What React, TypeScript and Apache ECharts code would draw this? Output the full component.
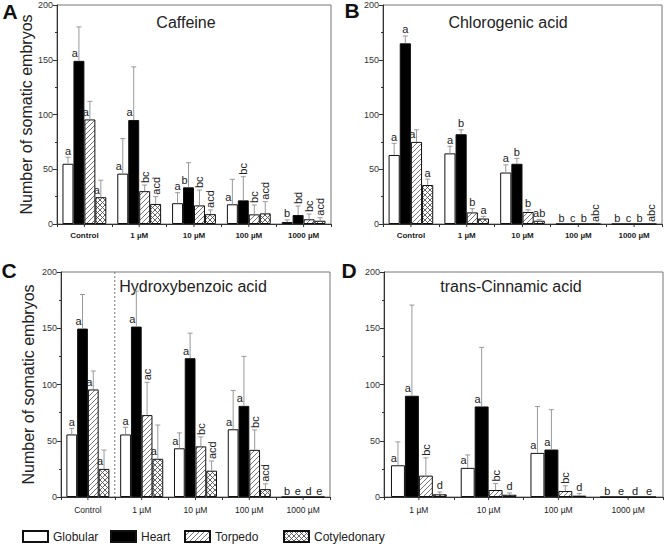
import React, { useEffect, useRef } from 'react';
import * as echarts from 'echarts';

const FONT = '"Liberation Sans", Arial, Helvetica, sans-serif';

const stages = ['Globular', 'Heart', 'Torpedo', 'Cotyledonary'];
const catsFive = ['Control', '1 µM', '10 µM', '100 µM', '1000 µM'];
const catsFour = ['1 µM', '10 µM', '100 µM', '1000 µM'];

// rows = concentration, columns = Globular, Heart, Torpedo, Cotyledonary
const caffeineMean = [[55, 149, 95.5, 24.5], [46, 95, 30, 18.3], [19, 33.5, 17, 9], [18, 21.6, 8.8, 9.7], [1.8, 8.2, 4.3, 3]];
const caffeineErr = [[61, 180, 112, 40], [78, 143.5, 35.6, 25], [28.6, 56, 31, 12.8], [40.8, 43.2, 17.4, 20.4], [3.7, 16.4, 9.1, 5.8]];
const caffeineLetters = [['a', 'a', 'a', 'a'], ['a', 'a', 'bc', 'acd'], ['a', 'b', 'bc', 'acd'], ['a', 'bc', 'bc', 'acd'], ['b', 'bd', 'bc', 'acd']];

const chlorogenicMean = [[63, 165, 75, 35.6], [64.5, 82, 10.6, 5], [47, 55, 11, 3], [0, 0, 0, 0], [0, 0, 0, 0]];
const chlorogenicErr = [[73.7, 171.7, 86, 41], [71, 86, 14, 7], [54, 60, 13, 4], [0, 0, 0, 0], [0, 0, 0, 0]];
const chlorogenicLetters = [['a', 'a', 'a', 'a'], ['a', 'b', 'b', 'a'], ['a', 'b', 'b', 'ab'], ['b', 'c', 'b', 'abc'], ['b', 'c', 'b', 'abc']];

const hydroxyMean = [[55.6, 149.7, 95.6, 25], [55.6, 151.5, 72.8, 34], [43.3, 123.4, 45, 23.4], [60.2, 81, 41.9, 7], [0, 0, 0, 0]];
const hydroxyErr = [[61, 180, 112, 41.7], [62, 183, 102, 64], [57, 145.6, 53.4, 32], [94.7, 125, 59.6, 11.7], [0, 0, 0, 0]];
const hydroxyLetters = [['a', 'a', 'a', 'a'], ['a', 'a', 'ac', 'a'], ['a', 'a', 'bc', 'acd'], ['a', 'a', 'bc', 'acd'], ['b', 'e', 'd', 'e']];

const cinnamicMean = [[28.2, 90, 19, 2.4], [25.9, 80.5, 6.2, 2], [39.2, 42.2, 5.3, 1.2], [0, 0, 0, 0]];
const cinnamicErr = [[49, 170.6, 34.8, 4.5], [37.4, 133, 11.9, 3.6], [80.5, 77.6, 10, 3], [0, 0, 0, 0]];
const cinnamicLetters = [['a', 'a', 'bc', 'd'], ['a', 'a', 'bc', 'd'], ['a', 'a', 'bc', 'd'], ['b', 'e', 'd', 'e']];

const panelTitles = ['Caffeine', 'Chlorogenic acid', 'Hydroxybenzoic acid', 'trans-Cinnamic acid'];
const panelLetters = ['A', 'B', 'C', 'D'];

function makeHatch(cross: boolean, color: string) {
  const s = 5;
  const c = document.createElement('canvas');
  c.width = s;
  c.height = s;
  const ctx = c.getContext('2d')!;
  ctx.fillStyle = '#fff';
  ctx.fillRect(0, 0, s, s);
  ctx.strokeStyle = color;
  ctx.lineWidth = 0.9;
  ctx.beginPath();
  ctx.moveTo(0, s); ctx.lineTo(s, 0);
  ctx.moveTo(-1, 1); ctx.lineTo(1, -1);
  ctx.moveTo(s - 1, s + 1); ctx.lineTo(s + 1, s - 1);
  if (cross) {
    ctx.moveTo(0, 0); ctx.lineTo(s, s);
    ctx.moveTo(-1, s - 1); ctx.lineTo(1, s + 1);
    ctx.moveTo(s - 1, -1); ctx.lineTo(s + 1, 1);
  }
  ctx.stroke();
  return { image: c, repeat: 'repeat', imageWidth: s, imageHeight: s } as any;
}

const isVertical = (l: string) => l.length > 1 && l !== 'ab';

export default function App() {
  const ref = useRef<HTMLDivElement>(null);
  useEffect(() => {
    if (!ref.current) return;
    const chart = echarts.init(ref.current, undefined, { renderer: 'svg' });

    const fills: any[] = ['#ffffff', '#000000', makeHatch(false, '#666'), makeHatch(true, '#555')];

    const panels = [
      { cats: catsFive, mean: caffeineMean, err: caffeineErr, letters: caffeineLetters, grid: { left: 57, top: 5, width: 274, height: 219 }, bold: true, name: true, nameGap: 23 },
      { cats: catsFive, mean: chlorogenicMean, err: chlorogenicErr, letters: chlorogenicLetters, grid: { left: 383, top: 5, width: 279, height: 219 }, bold: true, name: false, nameGap: 0 },
      { cats: catsFive, mean: hydroxyMean, err: hydroxyErr, letters: hydroxyLetters, grid: { left: 61, top: 272, width: 269, height: 225 }, bold: false, name: true, nameGap: 25 },
      { cats: catsFour, mean: cinnamicMean, err: cinnamicErr, letters: cinnamicLetters, grid: { left: 384, top: 272, width: 279, height: 225 }, bold: false, name: false, nameGap: 0 },
    ];

    const grid = panels.map((p) => ({ ...p.grid, show: true, borderColor: '#777', borderWidth: 1, backgroundColor: 'transparent' }));

    const xAxis: any[] = panels.map((p, i) => ({
      type: 'category',
      gridIndex: i,
      data: p.cats,
      axisLine: { onZero: false, lineStyle: { color: '#333', width: 1 } },
      axisTick: { show: true, length: 3, lineStyle: { color: '#333' } },
      axisLabel: {
        interval: 0,
        fontSize: p.bold ? 8 : 8.5,
        fontWeight: p.bold ? 'bold' : 'normal',
        fontFamily: FONT,
        color: '#222',
        margin: p.bold ? 7 : 8,
      },
    }));
    // hidden continuous x axes aligned with the category bands (used to place rotated letters)
    panels.forEach((p, i) => {
      xAxis.push({ type: 'value', gridIndex: i, min: -0.5, max: p.cats.length - 0.5, show: false, splitLine: { show: false } });
    });

    const yAxis = panels.map((p, i) => ({
      type: 'value',
      gridIndex: i,
      min: 0,
      max: 200,
      interval: 50,
      name: p.name ? 'Number of somatic embryos' : '',
      nameLocation: 'middle',
      nameGap: p.nameGap,
      nameTextStyle: { fontSize: 16, fontFamily: FONT, color: '#222' },
      axisLine: { show: true, onZero: false, lineStyle: { color: '#333', width: 1 } },
      axisTick: { show: true, length: 4, lineStyle: { color: '#333' } },
      minorTick: { show: true, splitNumber: 2, length: 2, lineStyle: { color: '#333' } },
      splitLine: { show: false },
      axisLabel: { fontSize: 9, fontFamily: FONT, color: '#333', margin: 4 },
    }));

    const series: any[] = [];
    const flats: { cat: number; stage: number; m: number; e: number; letter: string }[][] = [];
    panels.forEach((p, pi) => {
      stages.forEach((s, si) => {
        series.push({
          type: 'bar',
          name: s,
          xAxisIndex: pi,
          yAxisIndex: pi,
          data: p.mean.map((row) => row[si]),
          barGap: '0%',
          barCategoryGap: '20%',
          itemStyle: { color: fills[si], borderColor: '#111', borderWidth: 1 },
          emphasis: { disabled: true },
        });
      });

      const flat: { cat: number; stage: number; m: number; e: number; letter: string }[] = [];
      p.mean.forEach((row, ci) => row.forEach((m, si) => {
        flat.push({ cat: ci, stage: si, m, e: p.err[ci][si], letter: p.letters[ci][si] });
      }));
      flats.push(flat);

      series.push({
        type: 'custom',
        xAxisIndex: pi,
        yAxisIndex: pi,
        silent: true,
        z: 5,
        data: flat.map((d) => [d.cat, d.stage, d.m, d.e]),
        encode: { x: 0, y: 2 },
        renderItem: (params: any, api: any) => {
          const d = flat[params.dataIndex];
          const band = api.size([1, 0])[0];
          const barW = (band * 0.8) / 4;
          const center = api.coord([d.cat, 0]);
          const cx = center[0] - band * 0.4 + barW * (d.stage + 0.5);
          const y0 = center[1];
          const yBar = api.coord([d.cat, d.m])[1];
          const yErr = api.coord([d.cat, d.e])[1];
          const children: any[] = [];
          if (d.stage === 0) {
            children.push({
              type: 'line',
              shape: { x1: center[0], y1: y0, x2: center[0], y2: y0 + 3 },
              style: { stroke: '#333', lineWidth: 1 },
            });
          }
          const hasErr = d.e > d.m;
          if (hasErr) {
            children.push({
              type: 'line',
              shape: { x1: cx, y1: yBar, x2: cx, y2: yErr },
              style: { stroke: '#999', lineWidth: 1 },
            });
            children.push({
              type: 'line',
              shape: { x1: cx - 2.5, y1: yErr, x2: cx + 2.5, y2: yErr },
              style: { stroke: '#999', lineWidth: 1 },
            });
          }
          const top = hasErr ? yErr : yBar;
          const txtStyle = { text: d.letter, fontSize: 11, fontFamily: FONT, fill: '#222' };
          if (isVertical(d.letter)) {
            // rotated letters are drawn by the graphic component
          } else if (hasErr && yBar - yErr > 12) {
            children.push({
              type: 'text',
              x: cx - 1,
              y: yBar - 2,
              style: { ...txtStyle, x: 0, y: 0, align: 'right', verticalAlign: 'bottom' },
            });
          } else {
            children.push({
              type: 'text',
              x: cx,
              y: top - 1,
              style: { ...txtStyle, x: 0, y: 0, align: 'center', verticalAlign: 'bottom' },
            });
          }
          return { type: 'group', children };
        },
      });
    });

    // dotted separator between Control and treatments in panel C
    series.push({
      type: 'custom',
      xAxisIndex: 2,
      yAxisIndex: 2,
      silent: true,
      data: [[0, 0]],
      encode: { x: 0, y: 1 },
      renderItem: (params: any, api: any) => {
        const band = api.size([1, 0])[0];
        const x = api.coord([0, 0])[0] + band / 2;
        const cs = params.coordSys;
        return {
          type: 'line',
          shape: { x1: x, y1: cs.y, x2: x, y2: cs.y + cs.height },
          style: { stroke: '#777', lineWidth: 1, lineDash: [2, 2] },
        };
      },
    });

    const legendLeft = [22, 110, 184, 283];
    const legend = stages.map((s, i) => ({
      data: [s],
      left: legendLeft[i],
      top: 530,
      padding: 0,
      itemWidth: 25,
      itemHeight: 11,
      icon: 'rect',
      selectedMode: false,
      textStyle: { fontSize: 12, fontFamily: FONT, color: '#222' },
    }));

    chart.setOption({
      animation: false,
      backgroundColor: '#ffffff',
      textStyle: { fontFamily: FONT },
      grid,
      xAxis,
      yAxis,
      legend,
      series,
    });

    const titlePos = [[186, 22], [508, 22], [193, 286], [511, 286]];
    const letterPos = [[10, 11], [352, 10], [9, 270], [349, 270]];
    const graphic: any[] = [];
    panelTitles.forEach((t, i) => {
      graphic.push({
        type: 'text',
        x: titlePos[i][0],
        y: titlePos[i][1],
        style: { text: t, fontSize: 16, fontFamily: FONT, fill: '#222', align: 'center', verticalAlign: 'middle' },
      });
      graphic.push({
        type: 'text',
        x: letterPos[i][0],
        y: letterPos[i][1],
        style: { text: panelLetters[i], fontSize: 21, fontWeight: 'bold', fontFamily: FONT, fill: '#111', align: 'center', verticalAlign: 'middle' },
      });
    });
    // rotated significance letters, positioned through the axes
    flats.forEach((flat, pi) => {
      flat.filter((d) => isVertical(d.letter)).forEach((d) => {
        const px = chart.convertToPixel(
          { xAxisIndex: 4 + pi, yAxisIndex: pi } as any,
          [d.cat - 0.4 + 0.2 * (d.stage + 0.5), Math.max(d.e, d.m)],
        ) as number[];
        if (!px) return;
        graphic.push({
          type: 'text',
          x: px[0],
          y: px[1] - 2,
          rotation: Math.PI / 2,
          silent: true,
          z: 10,
          style: { text: d.letter, fontSize: 11, fontFamily: FONT, fill: '#222', align: 'left', verticalAlign: 'middle' },
        });
      });
    });
    chart.setOption({ graphic });

    return () => chart.dispose();
  }, []);

  return <div ref={ref} style={{ position: 'fixed', left: 0, top: 0, width: 665, height: 544 }} />;
}
